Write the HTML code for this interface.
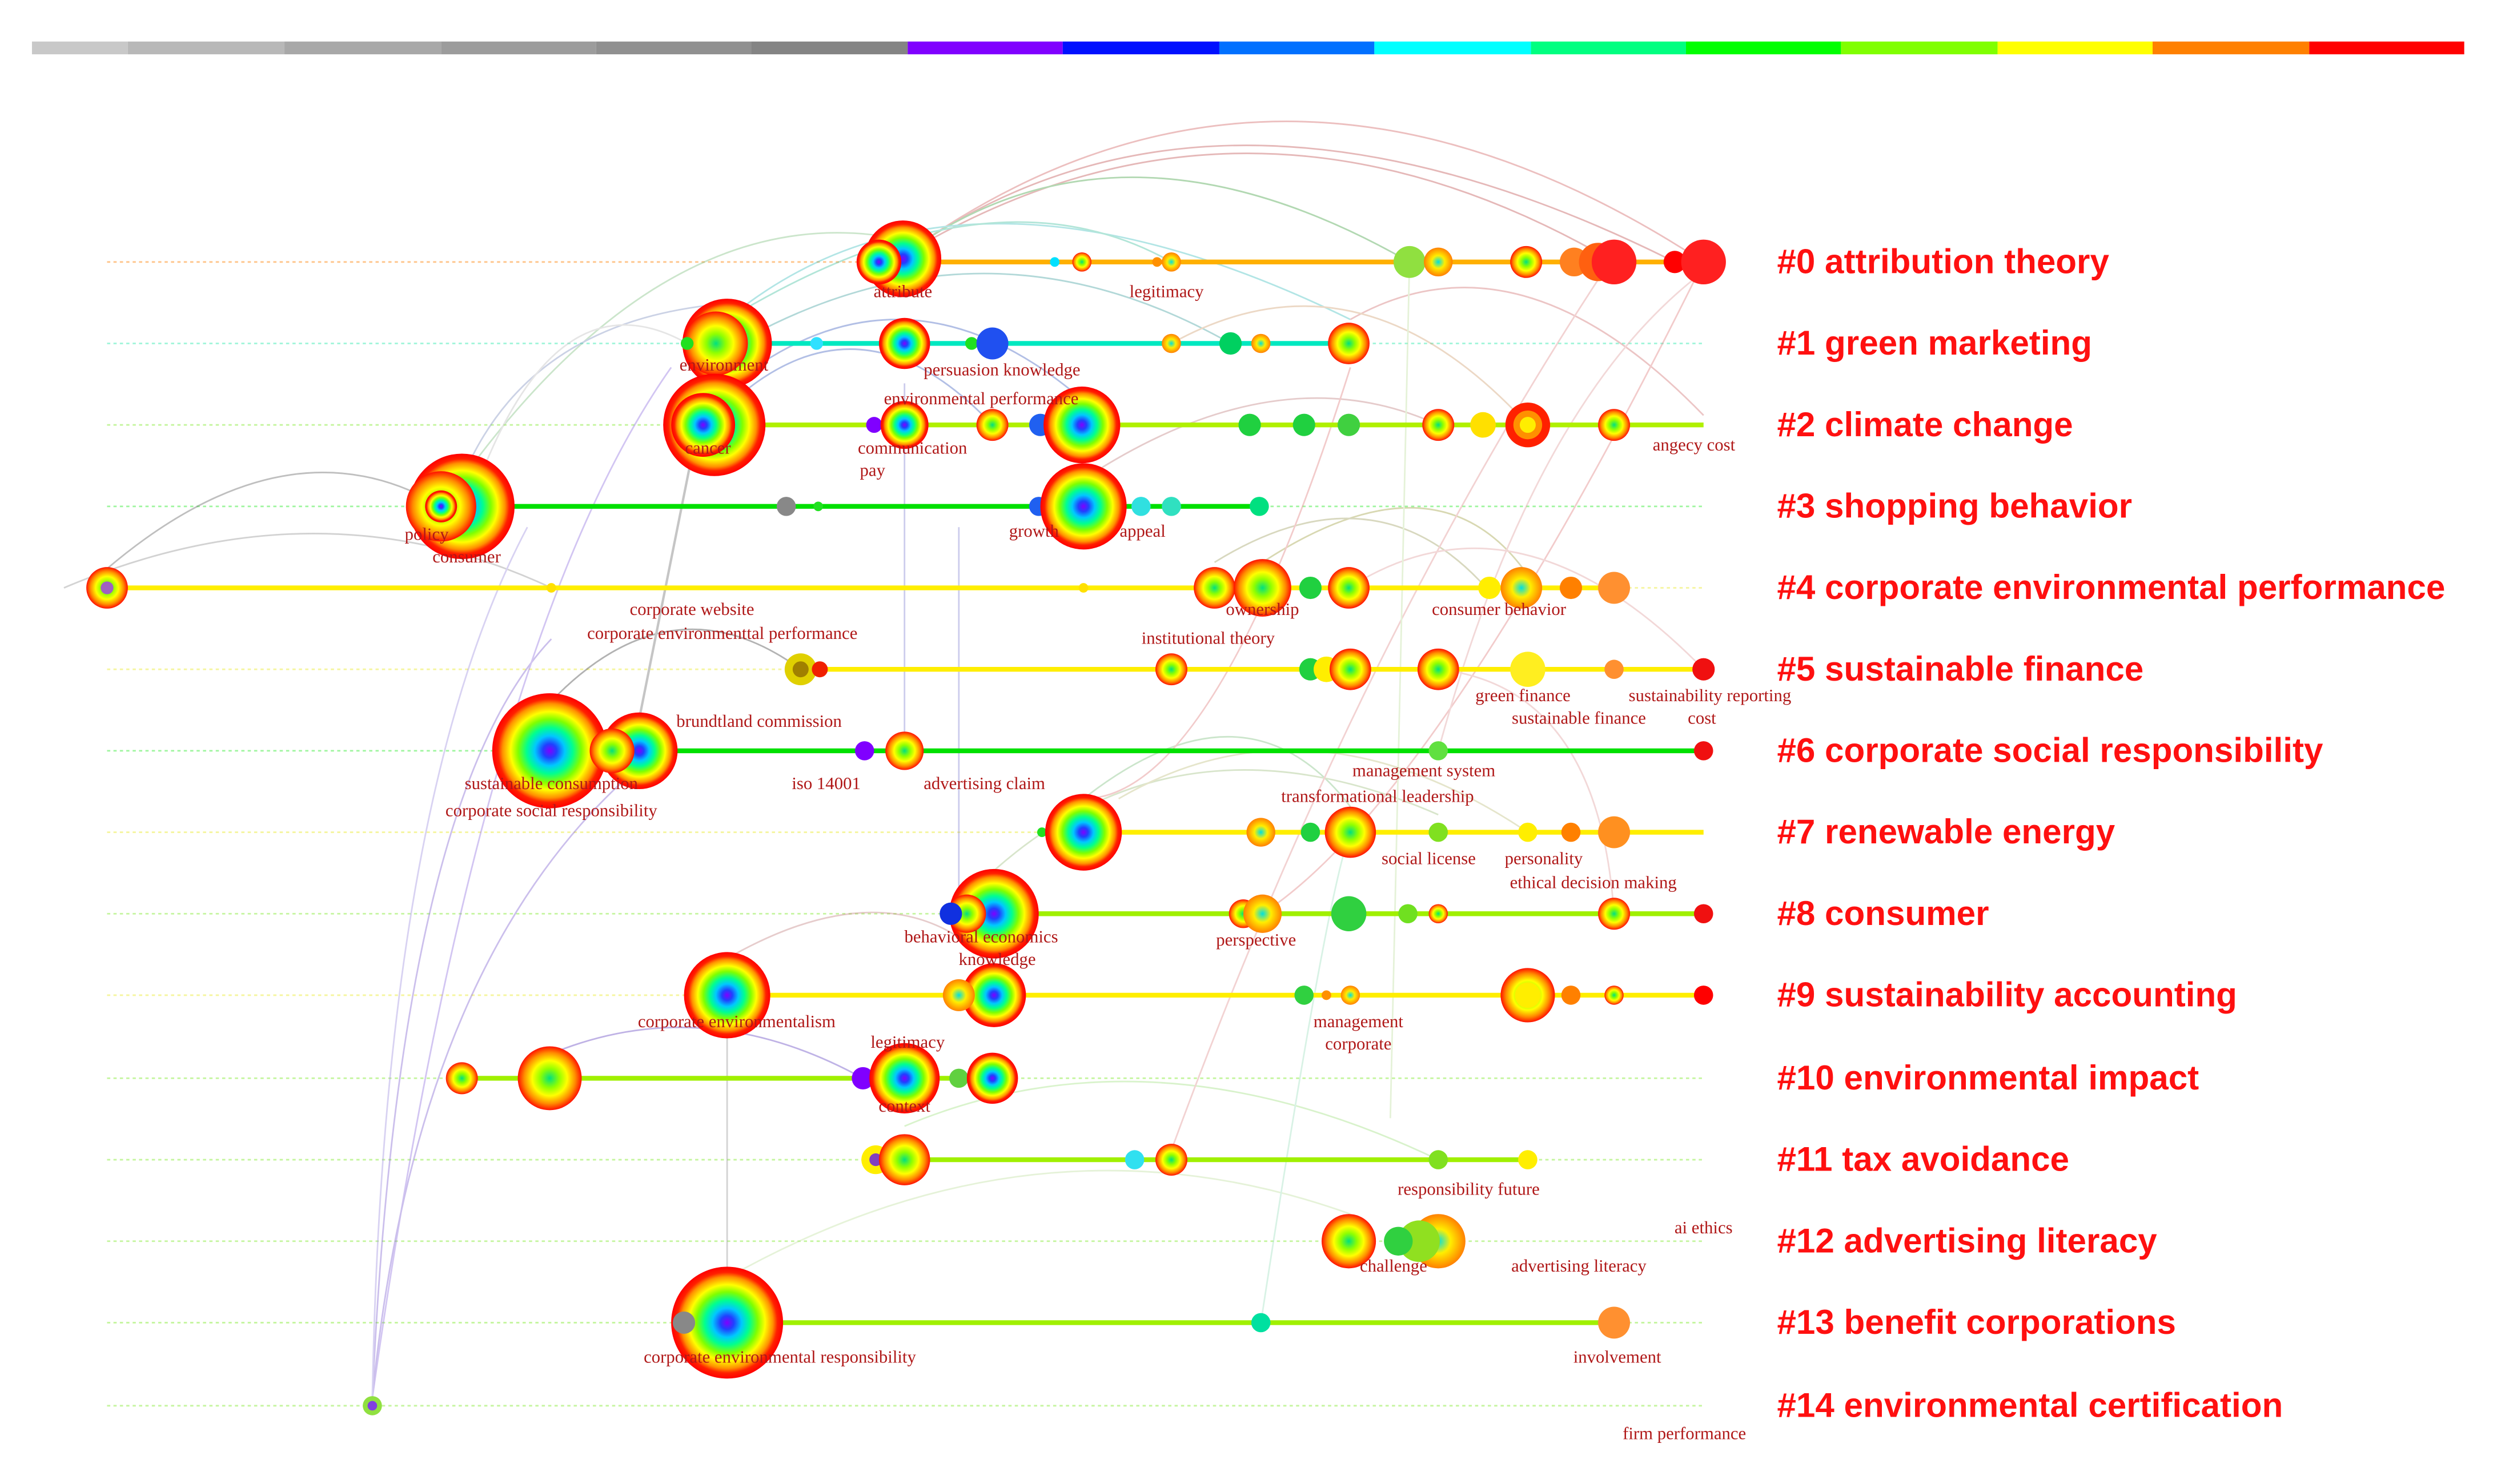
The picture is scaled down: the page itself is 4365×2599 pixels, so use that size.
<!DOCTYPE html>
<html><head><meta charset="utf-8"><style>html,body{margin:0;padding:0;background:#fff}svg{display:block}</style></head><body>
<svg width="4365" height="2599" viewBox="0 0 1560 929" preserveAspectRatio="none" xmlns="http://www.w3.org/2000/svg">
<defs>
<radialGradient id="rb"><stop offset="0" stop-color="#8000ff"/><stop offset=".12" stop-color="#2040ff"/><stop offset=".26" stop-color="#00c8ff"/><stop offset=".4" stop-color="#00ff90"/><stop offset=".55" stop-color="#80ff00"/><stop offset=".68" stop-color="#ffff00"/><stop offset=".82" stop-color="#ff9000"/><stop offset=".9" stop-color="#ff2000"/><stop offset="1" stop-color="#ff0000"/></radialGradient>
<radialGradient id="ry"><stop offset="0" stop-color="#00e080"/><stop offset=".3" stop-color="#90ff00"/><stop offset=".55" stop-color="#ffff00"/><stop offset=".8" stop-color="#ff8c00"/><stop offset="1" stop-color="#ff1000"/></radialGradient>
<radialGradient id="ro"><stop offset="0" stop-color="#00e0e0"/><stop offset=".45" stop-color="#ffee00"/><stop offset="1" stop-color="#ff8000"/></radialGradient>
</defs>
<rect width="1560" height="929" fill="#fff"/>
<g>
<rect x="20" y="26" width="60" height="8" fill="#c8c8c8"/><rect x="80" y="26" width="98" height="8" fill="#b8b8b8"/><rect x="178" y="26" width="98" height="8" fill="#a8a8a8"/><rect x="276" y="26" width="97" height="8" fill="#9c9c9c"/><rect x="373" y="26" width="97" height="8" fill="#909090"/><rect x="470" y="26" width="98" height="8" fill="#848484"/>
<rect x="568" y="26" width="97" height="8" fill="#8000ff"/><rect x="665" y="26" width="98" height="8" fill="#0010ff"/><rect x="763" y="26" width="97" height="8" fill="#0070ff"/><rect x="860" y="26" width="98" height="8" fill="#00ffff"/><rect x="958" y="26" width="97" height="8" fill="#00ff80"/><rect x="1055" y="26" width="97" height="8" fill="#00ff00"/><rect x="1152" y="26" width="98" height="8" fill="#80ff00"/><rect x="1250" y="26" width="97" height="8" fill="#ffff00"/><rect x="1347" y="26" width="98" height="8" fill="#ff8000"/><rect x="1445" y="26" width="97" height="8" fill="#ff0000"/>
</g>
<g stroke-dasharray="2,2" stroke-width="1" opacity=".6">
<line x1="67" y1="164" x2="1066" y2="164" stroke="#ffa040"/>
<line x1="67" y1="215" x2="1066" y2="215" stroke="#60f0c0"/>
<line x1="67" y1="266" x2="1066" y2="266" stroke="#a0f060"/>
<line x1="67" y1="317" x2="1066" y2="317" stroke="#60f060"/>
<line x1="67" y1="368" x2="1066" y2="368" stroke="#f0f060"/>
<line x1="67" y1="419" x2="1066" y2="419" stroke="#f0f060"/>
<line x1="67" y1="470" x2="1066" y2="470" stroke="#60f060"/>
<line x1="67" y1="521" x2="1066" y2="521" stroke="#f0f060"/>
<line x1="67" y1="572" x2="1066" y2="572" stroke="#a0f060"/>
<line x1="67" y1="623" x2="1066" y2="623" stroke="#f0f060"/>
<line x1="67" y1="675" x2="1066" y2="675" stroke="#a0f060"/>
<line x1="67" y1="726" x2="1066" y2="726" stroke="#a0f060"/>
<line x1="67" y1="777" x2="1066" y2="777" stroke="#a0f060"/>
<line x1="67" y1="828" x2="1066" y2="828" stroke="#a0f060"/>
<line x1="67" y1="880" x2="1066" y2="880" stroke="#a0f060"/>
</g>
<g fill="none" stroke-width="1" opacity=".4">
<path d="M565 160 Q800 -10 1066 164" stroke="#d06060"/>
<path d="M565 160 Q780 30 1010 164" stroke="#c05050"/>
<path d="M565 160 Q760 20 1048 164" stroke="#c05050"/>
<path d="M565 160 Q700 60 882 164" stroke="#40a040"/>
<path d="M455 200 Q600 80 845 200" stroke="#40c0c0"/>
<path d="M455 200 Q620 100 733 164" stroke="#40c0a0"/>
<path d="M470 210 Q620 130 770 215" stroke="#40a0a0"/>
<path d="M447 250 Q560 150 677 250" stroke="#4060c0"/>
<path d="M460 250 Q540 180 621 266" stroke="#4060c0"/>
<path d="M289 300 Q420 120 565 150" stroke="#80c080"/>
<path d="M289 300 Q330 200 455 190" stroke="#8090c0"/>
<path d="M300 300 Q350 170 430 215" stroke="#c0c0c0"/>
<path d="M67 356 Q180 260 276 317" stroke="#606060"/>
<path d="M40 368 Q200 300 345 368" stroke="#909090"/>
<path d="M344 440 Q420 360 501 419" stroke="#404040"/>
<path d="M678 300 Q800 220 900 266" stroke="#c08080"/>
<path d="M845 200 Q950 140 1066 260" stroke="#d07070"/>
<path d="M790 352 Q900 280 956 360" stroke="#a0a040"/>
<path d="M760 352 Q860 290 930 368" stroke="#a0a060"/>
<path d="M678 500 Q780 420 845 505" stroke="#80c080"/>
<path d="M622 545 Q740 440 900 510" stroke="#a0c080"/>
<path d="M700 500 Q820 430 956 521" stroke="#c0c080"/>
<path d="M455 600 Q560 540 622 605" stroke="#c08080"/>
<path d="M344 660 Q440 620 540 675" stroke="#6040c0"/>
<path d="M566 705 Q720 640 900 726" stroke="#a0e080"/>
<path d="M455 800 Q650 690 845 760" stroke="#c0e0a0"/>
<path d="M233 875 Q250 500 345 400" stroke="#8060d0"/>
<path d="M233 875 Q300 400 420 230" stroke="#9070e0"/>
<path d="M233 875 Q260 600 400 480" stroke="#8060d0"/>
<path d="M233 875 Q240 500 330 330" stroke="#a090e0"/>
<path d="M400 450 L440 250" stroke="#707070" stroke-width="1.5"/>
<path d="M1066 164 Q900 500 790 572" stroke="#e08080"/>
<path d="M1010 160 Q850 400 733 720" stroke="#e09090"/>
<path d="M845 230 Q760 500 678 500" stroke="#e08080"/>
<path d="M566 480 L566 240" stroke="#8080d0"/>
<path d="M600 560 L600 330" stroke="#8080d0"/>
<path d="M455 650 L455 800" stroke="#909090"/>
<path d="M1066 419 Q950 300 844 368" stroke="#e0a0a0"/>
<path d="M956 266 Q850 150 733 215" stroke="#d0a070"/>
<path d="M1010 572 Q1000 430 900 419" stroke="#e0a0a0"/>
<path d="M789 828 Q830 560 845 521" stroke="#a0e0c0"/>
<path d="M882 164 L870 700" stroke="#c0e0a0"/>
<path d="M900 470 Q960 250 1066 170" stroke="#e0a0a0"/>
</g>
<g stroke-width="3">
<line x1="560" y1="164" x2="1066" y2="164" stroke="#ffb000"/>
<line x1="430" y1="215" x2="844" y2="215" stroke="#00e8c0"/>
<line x1="470" y1="266" x2="1066" y2="266" stroke="#b0f000"/>
<line x1="289" y1="317" x2="788" y2="317" stroke="#00e000"/>
<line x1="67" y1="368" x2="1010" y2="368" stroke="#ffee00"/>
<line x1="501" y1="419" x2="1066" y2="419" stroke="#ffee00"/>
<line x1="383" y1="470" x2="1066" y2="470" stroke="#00e000"/>
<line x1="652" y1="521" x2="1066" y2="521" stroke="#ffee00"/>
<line x1="595" y1="572" x2="1066" y2="572" stroke="#a0f000"/>
<line x1="430" y1="623" x2="1066" y2="623" stroke="#ffee00"/>
<line x1="289" y1="675" x2="621" y2="675" stroke="#a0f000"/>
<line x1="548" y1="726" x2="956" y2="726" stroke="#a0f000"/>
<line x1="430" y1="828" x2="1010" y2="828" stroke="#a0f000"/>
</g>
<g stroke="none">
<circle cx="565" cy="162" r="24" fill="url(#rb)"/><circle cx="550" cy="164" r="14" fill="url(#rb)"/>
<circle cx="660" cy="164" r="3" fill="#00e0ff"/><circle cx="677" cy="164" r="6" fill="url(#ry)"/><circle cx="724" cy="164" r="3" fill="#ff9000"/><circle cx="733" cy="164" r="6" fill="url(#ro)"/>
<circle cx="882" cy="164" r="10" fill="#90e040"/><circle cx="900" cy="164" r="9" fill="url(#ro)"/><circle cx="955" cy="164" r="10" fill="url(#ry)"/><circle cx="985" cy="164" r="9" fill="#ff8020"/><circle cx="1000" cy="164" r="12" fill="#ff6010"/><circle cx="1010" cy="164" r="14" fill="#ff2020"/><circle cx="1048" cy="164" r="7" fill="#f00"/><circle cx="1066" cy="164" r="14" fill="#ff2020"/>

<circle cx="455" cy="215" r="28" fill="url(#rb)"/><circle cx="448" cy="215" r="20" fill="url(#ry)"/><circle cx="430" cy="215" r="4" fill="#20e020"/><circle cx="511" cy="215" r="4" fill="#30e0ff"/><circle cx="566" cy="215" r="16" fill="url(#rb)"/><circle cx="608" cy="215" r="4" fill="#20e020"/><circle cx="621" cy="215" r="10" fill="#2050f0"/><circle cx="733" cy="215" r="6" fill="url(#ro)"/><circle cx="770" cy="215" r="7" fill="#00d060"/><circle cx="789" cy="215" r="6" fill="url(#ro)"/><circle cx="844" cy="215" r="13" fill="url(#ry)"/>

<circle cx="447" cy="266" r="32" fill="url(#rb)"/><circle cx="440" cy="266" r="20" fill="url(#rb)"/><circle cx="547" cy="266" r="5" fill="#8000ff"/><circle cx="566" cy="266" r="15" fill="url(#rb)"/><circle cx="621" cy="266" r="10" fill="url(#ry)"/><circle cx="651" cy="266" r="7" fill="#2060f0"/><circle cx="677" cy="266" r="24" fill="url(#rb)"/><circle cx="782" cy="266" r="7" fill="#20d040"/><circle cx="816" cy="266" r="7" fill="#20d040"/><circle cx="844" cy="266" r="7" fill="#40d040"/><circle cx="900" cy="266" r="10" fill="url(#ry)"/><circle cx="928" cy="266" r="8" fill="#ffe000"/><circle cx="956" cy="266" r="14" fill="#ff2000"/><circle cx="956" cy="266" r="9" fill="#ff9000"/><circle cx="956" cy="266" r="5" fill="#ffee00"/><circle cx="1010" cy="266" r="10" fill="url(#ry)"/>

<circle cx="289" cy="317" r="33" fill="url(#rb)"/><circle cx="276" cy="317" r="22" fill="url(#ry)"/><circle cx="276" cy="317" r="10" fill="url(#rb)"/><circle cx="492" cy="317" r="6" fill="#888"/><circle cx="512" cy="317" r="3" fill="#20e020"/><circle cx="650" cy="317" r="6" fill="#2060f0"/><circle cx="678" cy="317" r="27" fill="url(#rb)"/><circle cx="714" cy="317" r="6" fill="#30e0e0"/><circle cx="733" cy="317" r="6" fill="#30e0c0"/><circle cx="788" cy="317" r="6" fill="#00e080"/>

<circle cx="67" cy="368" r="13" fill="url(#ry)"/><circle cx="67" cy="368" r="4" fill="#a060c0"/><circle cx="345" cy="368" r="3" fill="#ffe000"/><circle cx="678" cy="368" r="3" fill="#ffe000"/><circle cx="760" cy="368" r="13" fill="url(#ry)"/><circle cx="790" cy="368" r="18" fill="url(#ry)"/><circle cx="820" cy="368" r="7" fill="#20d040"/><circle cx="844" cy="368" r="13" fill="url(#ry)"/><circle cx="932" cy="368" r="7" fill="#ffee00"/><circle cx="952" cy="368" r="13" fill="url(#ro)"/><circle cx="983" cy="368" r="7" fill="#ff8000"/><circle cx="1010" cy="368" r="10" fill="#ff9030"/>

<circle cx="501" cy="419" r="10" fill="#e0d000"/><circle cx="501" cy="419" r="5" fill="#a08000"/><circle cx="513" cy="419" r="5" fill="#f02000"/><circle cx="733" cy="419" r="10" fill="url(#ry)"/><circle cx="820" cy="419" r="7" fill="#20d040"/><circle cx="830" cy="419" r="8" fill="#ffee00"/><circle cx="845" cy="419" r="13" fill="url(#ry)"/><circle cx="900" cy="419" r="13" fill="url(#ry)"/><circle cx="956" cy="419" r="11" fill="#ffee20"/><circle cx="1010" cy="419" r="6" fill="#ff9030"/><circle cx="1066" cy="419" r="7" fill="#f01010"/>

<circle cx="344" cy="470" r="36" fill="url(#rb)"/><circle cx="400" cy="470" r="24" fill="url(#rb)"/><circle cx="383" cy="470" r="14" fill="url(#ry)"/><circle cx="541" cy="470" r="6" fill="#8000ff"/><circle cx="566" cy="470" r="12" fill="url(#ry)"/><circle cx="900" cy="470" r="6" fill="#60e040"/><circle cx="1066" cy="470" r="6" fill="#f01010"/>

<circle cx="652" cy="521" r="3" fill="#20e020"/><circle cx="678" cy="521" r="24" fill="url(#rb)"/><circle cx="789" cy="521" r="9" fill="url(#ro)"/><circle cx="820" cy="521" r="6" fill="#20d040"/><circle cx="845" cy="521" r="16" fill="url(#ry)"/><circle cx="900" cy="521" r="6" fill="#80e020"/><circle cx="956" cy="521" r="6" fill="#ffee00"/><circle cx="983" cy="521" r="6" fill="#ff8000"/><circle cx="1010" cy="521" r="10" fill="#ff9020"/>

<circle cx="622" cy="572" r="28" fill="url(#rb)"/><circle cx="605" cy="572" r="12" fill="url(#ry)"/><circle cx="595" cy="572" r="7" fill="#1030e0"/><circle cx="778" cy="572" r="9" fill="url(#ry)"/><circle cx="790" cy="572" r="12" fill="url(#ro)"/><circle cx="844" cy="572" r="11" fill="#30d040"/><circle cx="881" cy="572" r="6" fill="#70e020"/><circle cx="900" cy="572" r="6" fill="url(#ry)"/><circle cx="1010" cy="572" r="10" fill="url(#ry)"/><circle cx="1066" cy="572" r="6" fill="#f01010"/>

<circle cx="455" cy="623" r="27" fill="url(#rb)"/><circle cx="622" cy="623" r="20" fill="url(#rb)"/><circle cx="600" cy="623" r="10" fill="url(#ro)"/><circle cx="816" cy="623" r="6" fill="#30d040"/><circle cx="830" cy="623" r="3" fill="#ff9000"/><circle cx="845" cy="623" r="6" fill="url(#ro)"/><circle cx="956" cy="623" r="17" fill="url(#ry)"/><circle cx="956" cy="623" r="8" fill="#ffee00"/><circle cx="983" cy="623" r="6" fill="#ff8000"/><circle cx="1010" cy="623" r="6" fill="url(#ry)"/><circle cx="1066" cy="623" r="6" fill="#f00"/>

<circle cx="289" cy="675" r="10" fill="url(#ry)"/><circle cx="344" cy="675" r="20" fill="url(#ry)"/><circle cx="540" cy="675" r="7" fill="#8000ff"/><circle cx="566" cy="675" r="22" fill="url(#rb)"/><circle cx="600" cy="675" r="6" fill="#60d040"/><circle cx="621" cy="675" r="16" fill="url(#rb)"/>

<circle cx="548" cy="726" r="9" fill="#ffee00"/><circle cx="548" cy="726" r="4" fill="#8040c0"/><circle cx="566" cy="726" r="16" fill="url(#ry)"/><circle cx="710" cy="726" r="6" fill="#30e0f0"/><circle cx="733" cy="726" r="10" fill="url(#ry)"/><circle cx="900" cy="726" r="6" fill="#80e020"/><circle cx="956" cy="726" r="6" fill="#ffee00"/>

<circle cx="900" cy="777" r="17" fill="url(#ro)"/><circle cx="844" cy="777" r="17" fill="url(#ry)"/><circle cx="888" cy="777" r="13" fill="#90e020"/><circle cx="875" cy="777" r="9" fill="#30d040"/>

<circle cx="455" cy="828" r="35" fill="url(#rb)"/><circle cx="428" cy="828" r="7" fill="#888"/><circle cx="789" cy="828" r="6" fill="#00e0a0"/><circle cx="1010" cy="828" r="10" fill="#ff9030"/>

<circle cx="233" cy="880" r="6" fill="#90e040"/><circle cx="233" cy="880" r="3" fill="#8040e0"/>
</g>
<g font-family="Liberation Serif, serif" font-size="11" fill="#b01818" text-anchor="middle">
<text x="565" y="186">attribute</text><text x="730" y="186">legitimacy</text>
<text x="453" y="232">environment</text><text x="627" y="235">persuasion knowledge</text><text x="614" y="253">environmental performance</text>
<text x="443" y="284">cancer</text><text x="571" y="284">communication</text><text x="546" y="298">pay</text><text x="1060" y="282">angecy cost</text>
<text x="267" y="338">policy</text><text x="292" y="352">consumer</text><text x="647" y="336">growth</text><text x="715" y="336">appeal</text>
<text x="433" y="385">corporate website</text><text x="452" y="400">corporate environmenttal performance</text><text x="790" y="385">ownership</text><text x="938" y="385">consumer behavior</text><text x="756" y="403">institutional theory</text>
<text x="953" y="439">green finance</text><text x="1070" y="439">sustainability reporting</text><text x="988" y="453">sustainable finance</text><text x="1065" y="453">cost</text>
<text x="475" y="455">brundtland commission</text><text x="345" y="494">sustainable consumption</text><text x="517" y="494">iso 14001</text><text x="616" y="494">advertising claim</text><text x="891" y="486">management system</text>
<text x="345" y="511">corporate social responsibility</text><text x="862" y="502">transformational leadership</text><text x="894" y="541">social license</text><text x="966" y="541">personality</text><text x="997" y="556">ethical decision making</text>
<text x="614" y="590">behavioral economics</text><text x="624" y="604">knowledge</text><text x="786" y="592">perspective</text>
<text x="461" y="643">corporate environmentalism</text><text x="850" y="643">management</text><text x="850" y="657">corporate</text>
<text x="568" y="656">legitimacy</text><text x="566" y="696">context</text><text x="919" y="748">responsibility future</text>
<text x="1066" y="772">ai  ethics</text><text x="872" y="796">challenge</text><text x="988" y="796">advertising  literacy</text>
<text x="488" y="853">corporate environmental responsibility</text><text x="1012" y="853">involvement</text><text x="1054" y="901">firm performance</text>
</g>
<g font-family="Liberation Sans, Arial, sans-serif" font-size="21.5" font-weight="bold" fill="#ff1010">
<text x="1112" y="171">#0 attribution theory</text>
<text x="1112" y="222">#1 green marketing</text>
<text x="1112" y="273">#2 climate change</text>
<text x="1112" y="324">#3 shopping behavior</text>
<text x="1112" y="375">#4 corporate environmental performance</text>
<text x="1112" y="426">#5 sustainable finance</text>
<text x="1112" y="477">#6 corporate social responsibility</text>
<text x="1112" y="528">#7 renewable energy</text>
<text x="1112" y="579">#8 consumer</text>
<text x="1112" y="630">#9 sustainability accounting</text>
<text x="1112" y="682">#10 environmental impact</text>
<text x="1112" y="733">#11 tax avoidance</text>
<text x="1112" y="784">#12 advertising literacy</text>
<text x="1112" y="835">#13 benefit corporations</text>
<text x="1112" y="887">#14 environmental certification</text>
</g>
</svg>
</body></html>
